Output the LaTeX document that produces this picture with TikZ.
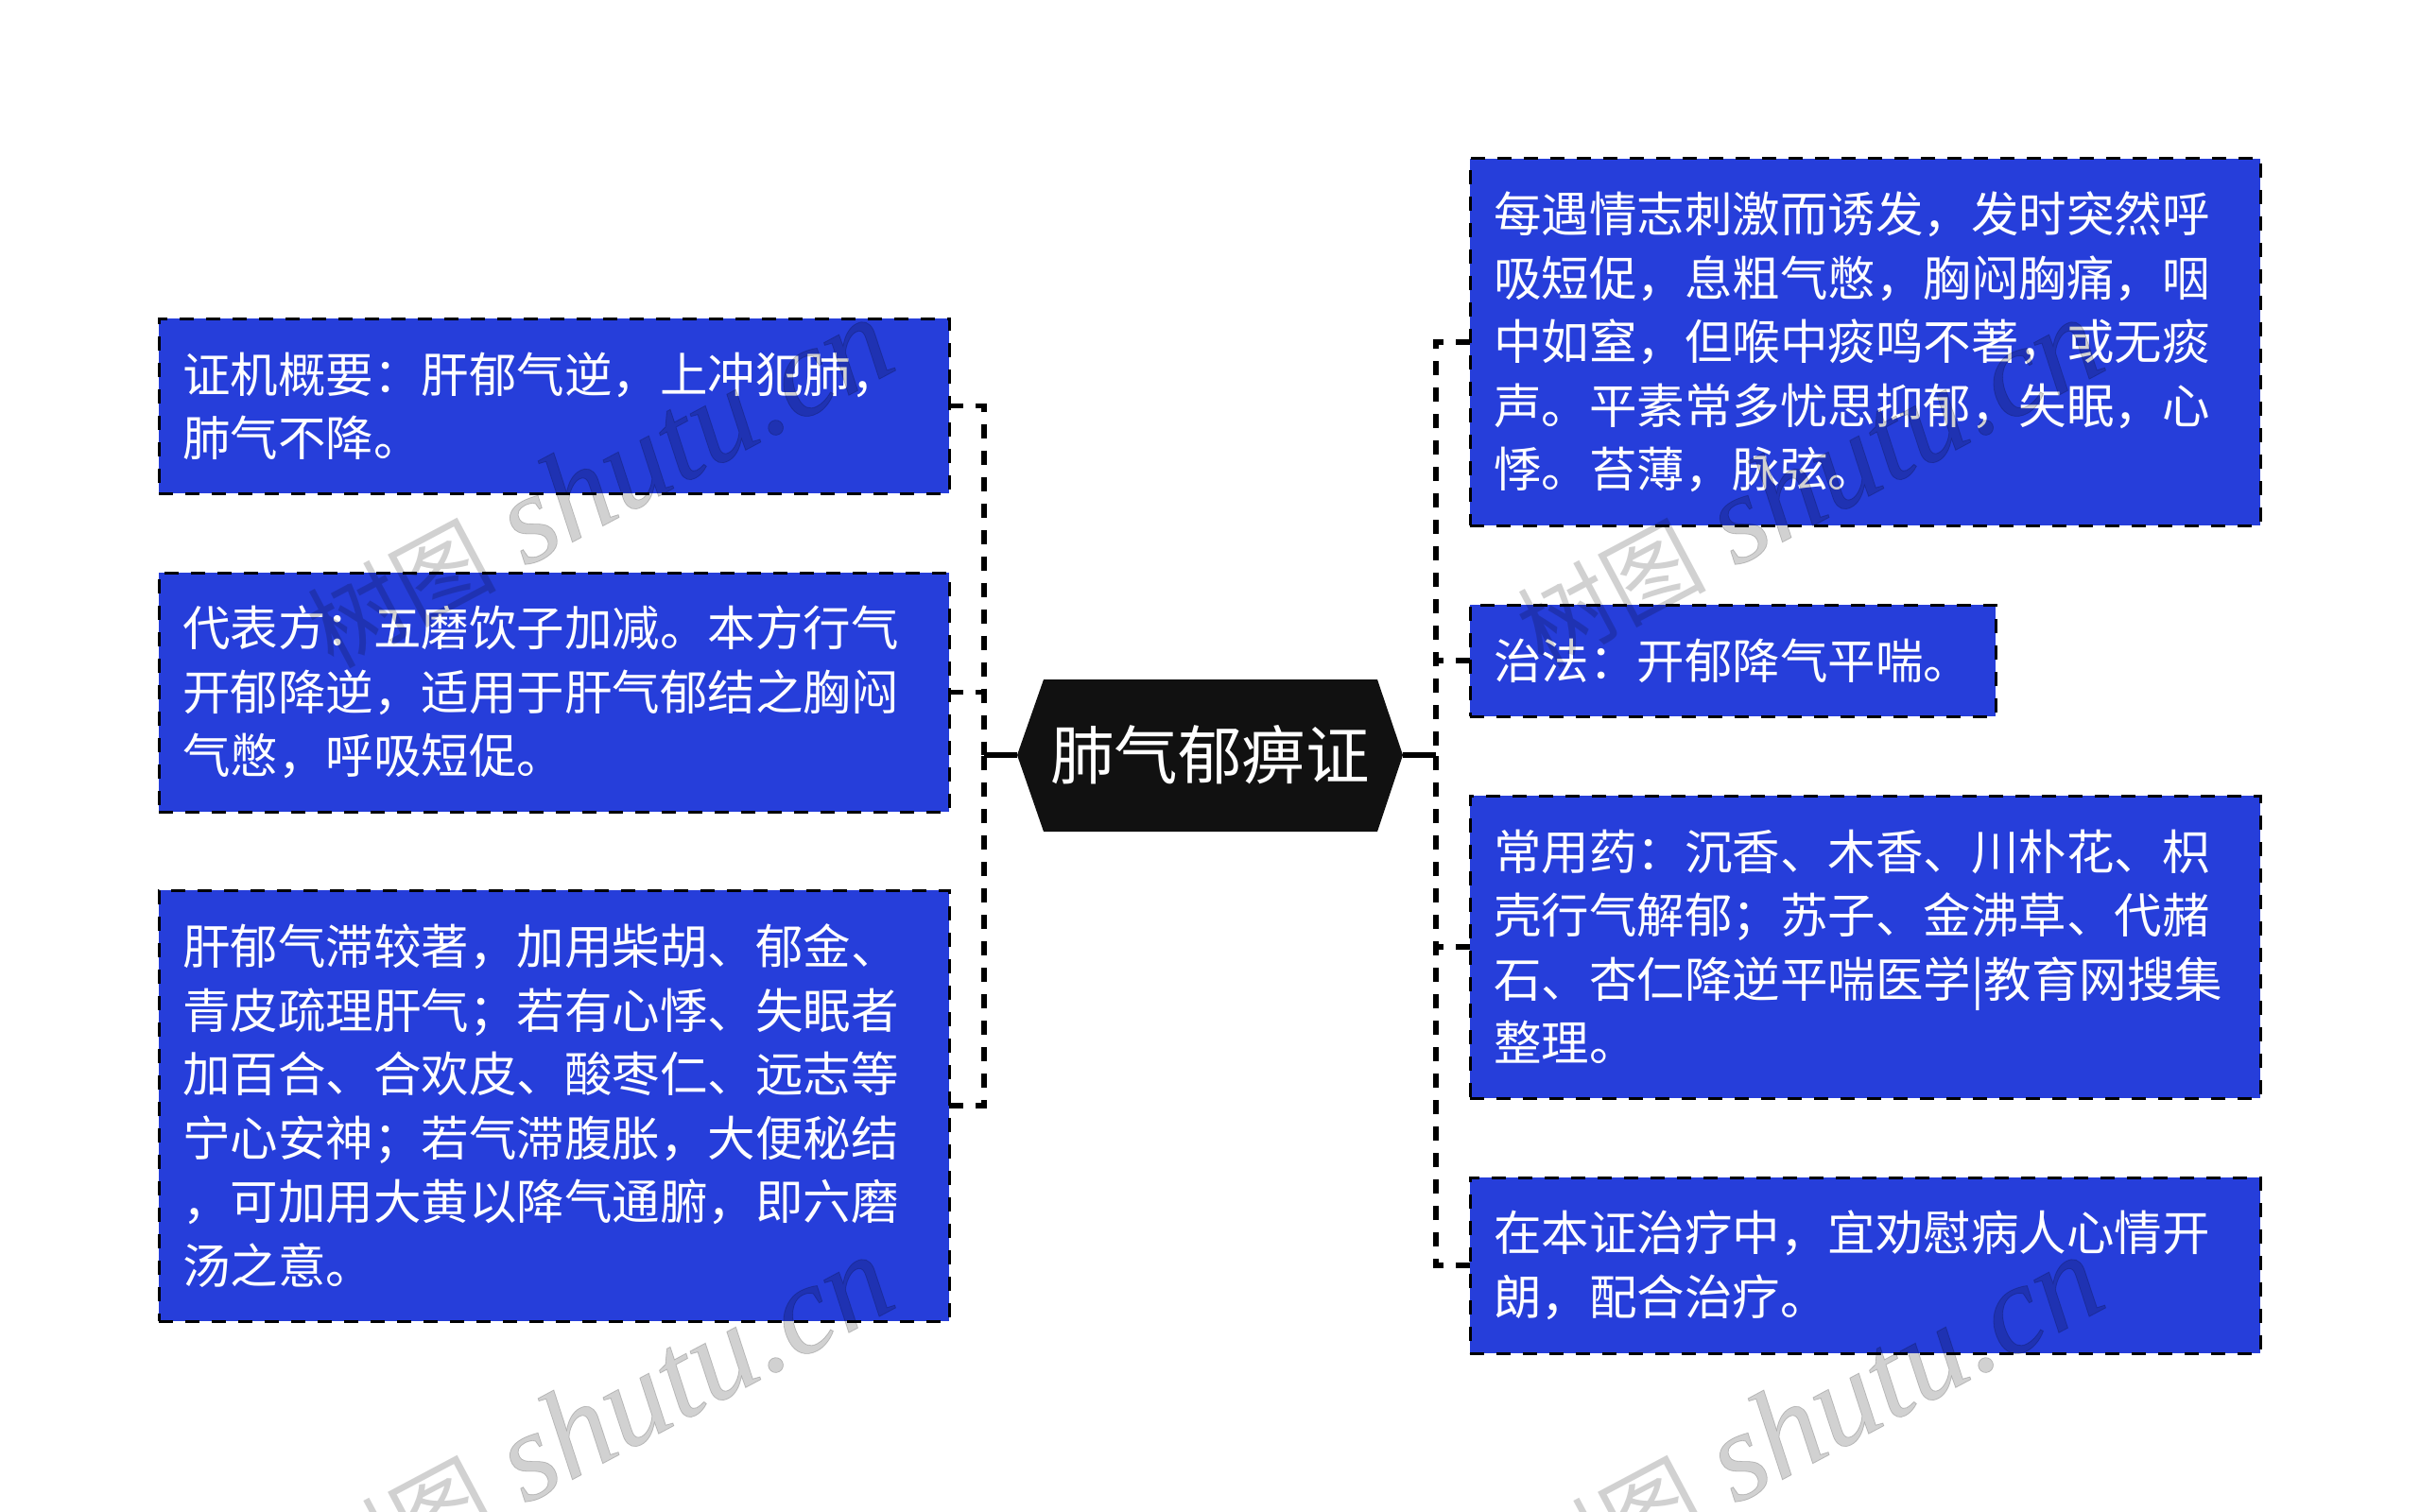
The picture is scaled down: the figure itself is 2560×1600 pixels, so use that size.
\documentclass[tikz,border=0pt]{standalone}
\usepackage{fontspec}
\setmainfont{Noto Sans CJK SC}
\newfontfamily\wmlatin{Liberation Serif}[ItalicFeatures={FakeBold=0.6}]
\newfontfamily\wmcjk{Noto Sans CJK SC}
\definecolor{boxblue}{RGB}{38,62,218}
\definecolor{rootblack}{RGB}{17,17,17}
\tikzset{
  x=1pt,y=-1pt,
  boxnode/.style={anchor=north west,rectangle,fill=boxblue,draw=black,line width=3pt,outer sep=0pt,
    dash pattern=on 15pt off 13pt,text=white,align=left,inner xsep=25pt,inner ysep=0pt,
    minimum height=#1,font=\fontsize{50.5pt}{67.5pt}\selectfont},
  wide/.style={minimum width=836pt,text width=786pt},
  conn/.style={draw=black,line width=5.5pt,dash pattern=on 15pt off 13pt},
  stem/.style={draw=black,line width=5.5pt},
  rootnode/.style={text=white,minimum width=408pt,minimum height=160pt,inner sep=0pt,outer sep=0pt,
    font=\fontsize{67.6pt}{70pt}\selectfont},
  wm/.style={anchor=base east,rotate=28,text=black,text opacity=0.18,inner sep=0pt,
    font=\fontsize{134pt}{134pt}\selectfont},
}
\newcommand{\wmtext}{{\wmcjk\fontsize{100pt}{100pt}\selectfont 树图} {\wmlatin\itshape shutu.cn}}
\begin{document}
\begin{tikzpicture}
\useasboundingbox (0,0) rectangle (2560,1600);
\clip (0,0) rectangle (2560,1600);
\fill[white] (0,0) rectangle (2560,1600);
% centre
\fill[rootblack] (1076,799) -- (1104,719) -- (1457,719) -- (1484,799) -- (1457,880) -- (1104,880) -- cycle;
\node[rootnode] (root) at (1280,799) {肺气郁痹证};
\coordinate (lb) at (1041,799);
\coordinate (rb) at (1519,799);
% left boxes
\node[boxnode=185pt,wide] (l1) at (168,337) {证机概要：肝郁气逆，上冲犯肺，\\肺气不降。};
\node[boxnode=253pt,wide] (l2) at (168,606) {代表方：五磨饮子加减。本方行气\\开郁降逆，适用于肝气郁结之胸闷\\气憋，呼吸短促。};
\node[boxnode=456pt,wide] (l3) at (168,942) {肝郁气滞较著，加用柴胡、郁金、\\青皮疏理肝气；若有心悸、失眠者\\加百合、合欢皮、酸枣仁、远志等\\宁心安神；若气滞腹胀，大便秘结\\，可加用大黄以降气通腑，即六磨\\汤之意。};
% right boxes
\node[boxnode=388pt,wide] (r1) at (1555,168) {每遇情志刺激而诱发，发时突然呼\\吸短促，息粗气憋，胸闷胸痛，咽\\中如窒，但喉中痰鸣不著，或无痰\\声。平素常多忧思抑郁，失眠，心\\悸。苔薄，脉弦。};
\node[boxnode=118pt,minimum width=556pt,text width=506pt] (r2) at (1555,640) {治法：开郁降气平喘。};
\node[boxnode=320pt,wide] (r3) at (1555,842) {常用药：沉香、木香、川朴花、枳\\壳行气解郁；苏子、金沸草、代赭\\石、杏仁降逆平喘医学|教育网搜集\\整理。};
\node[boxnode=186pt,wide] (r4) at (1555,1246) {在本证治疗中，宜劝慰病人心情开\\朗，配合治疗。};
% connectors
\draw[stem] (root.west) -- (lb);
\draw[stem] (root.east) -- (rb);
\draw[conn] (l1.east) -| (lb);
\draw[conn] (l3.east) -| (lb);
\draw[conn] (l2.east) -- (l2.east -| lb);
\draw[conn] (r1.west) -| (rb);
\draw[conn] (r4.west) -| (rb);
\draw[conn] (r2.west) -- (r2.west -| rb);
\draw[conn] (r3.west) -- (r3.west -| rb);
% watermarks
\node[wm] (w1) at (953,389) {\wmtext};
\node[wm] (w2) at (2233,389) {\wmtext};
\node[wm] (w3) at (953,1381) {\wmtext};
\node[wm] (w4) at (2233,1381) {\wmtext};
\end{tikzpicture}
\end{document}
